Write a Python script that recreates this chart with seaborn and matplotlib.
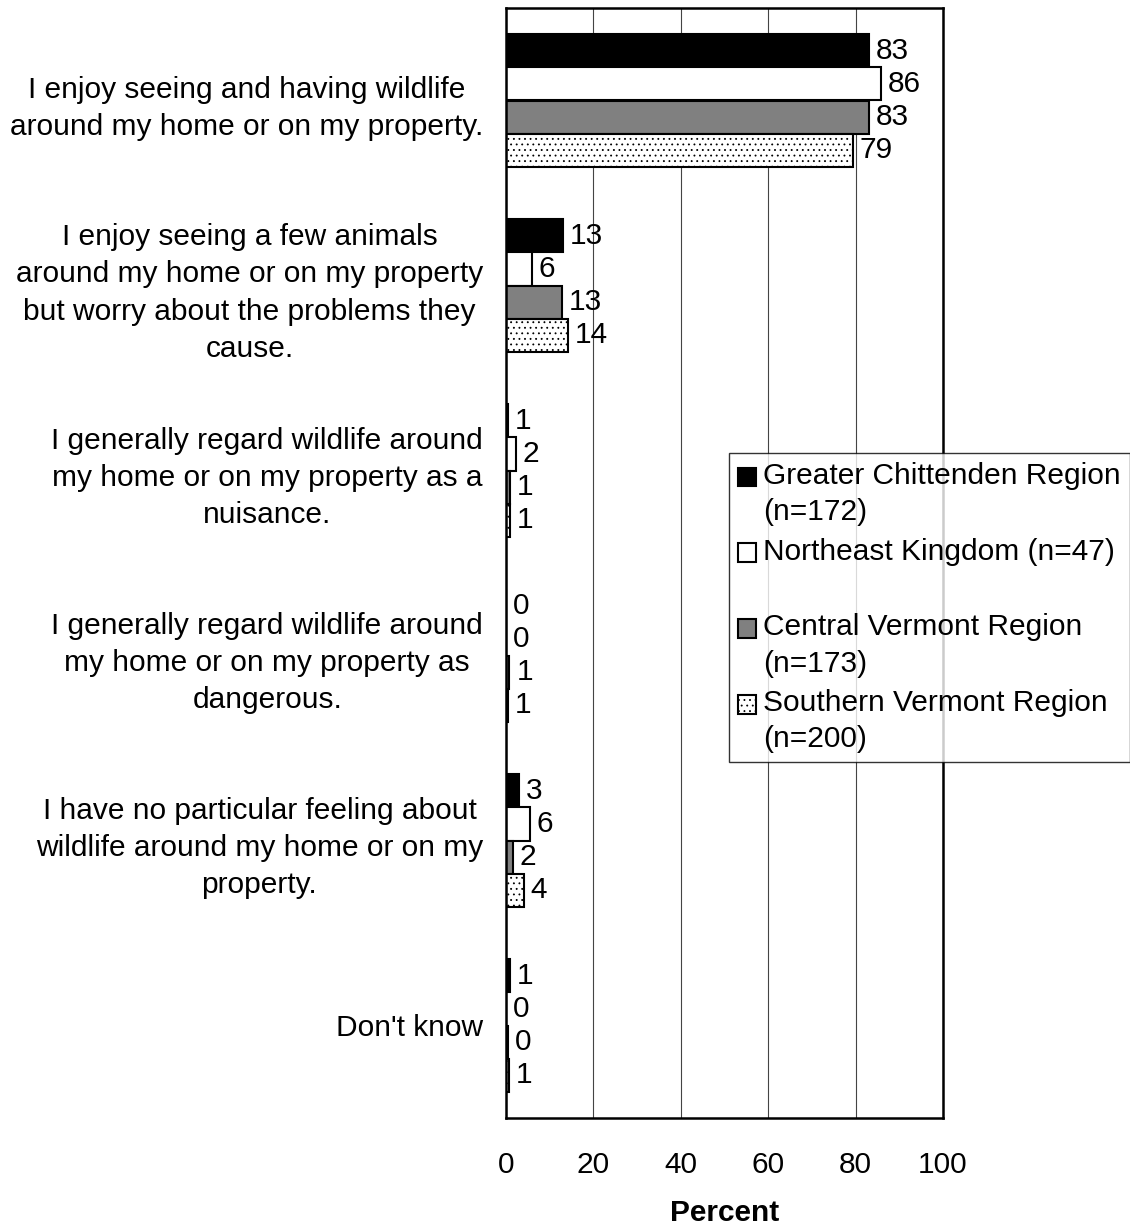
import pandas as pd
import matplotlib.pyplot as plt
import seaborn as sns

# Data
statements = [
    "I enjoy seeing and having wildlife\naround my home or on my property.",
    "I enjoy seeing a few animals\naround my home or on my property\nbut worry about the problems they\ncause.",
    "I generally regard wildlife around\nmy home or on my property as a\nnuisance.",
    "I generally regard wildlife around\nmy home or on my property as\ndangerous.",
    "I have no particular feeling about\nwildlife around my home or on my\nproperty.",
    "Don't know",
]
regions = [
    "Greater Chittenden Region\n(n=172)",
    "Northeast Kingdom (n=47)\n",
    "Central Vermont Region\n(n=173)",
    "Southern Vermont Region\n(n=200)",
]
greater = [83.1, 13.0, 0.5, 0.0, 3.0, 0.9]
northeast = [85.8, 5.9, 2.2, 0.0, 5.5, 0.0]
central = [83.0, 12.8, 0.9, 0.8, 1.6, 0.4]
southern = [79.4, 14.2, 0.9, 0.5, 4.1, 0.6]
greater_lbl = [83, 13, 1, 0, 3, 1]
northeast_lbl = [86, 6, 2, 0, 6, 0]
central_lbl = [83, 13, 1, 1, 2, 0]
southern_lbl = [79, 14, 1, 1, 4, 1]

series = [greater, northeast, central, southern]
labels = [greater_lbl, northeast_lbl, central_lbl, southern_lbl]

rows = []
for reg, vals in zip(regions, series):
    for st, v in zip(statements, vals):
        rows.append({"statement": st, "region": reg, "value": v})
df = pd.DataFrame(rows)

sns.set_style("white")
plt.rcParams["font.family"] = ["Liberation Sans", "DejaVu Sans"]
plt.rcParams["text.color"] = "black"
plt.rcParams["xtick.color"] = "black"
plt.rcParams["ytick.color"] = "black"
plt.rcParams["axes.labelcolor"] = "black"
plt.rcParams["hatch.linewidth"] = 0.6

FS = 21.5

fig = plt.figure(figsize=(11.3, 12.26), dpi=100)
ax = fig.add_axes([506 / 1130, 1 - 1118 / 1226, 437 / 1130, 1110 / 1226])

palette = ["black", "white", "#808080", "white"]
sns.barplot(data=df, y="statement", x="value", hue="region", orient="h",
            palette=palette, width=0.714, gap=0, edgecolor="black",
            linewidth=1.5, saturation=1, ax=ax, legend=True)

# dotted fill for Southern
for bar in ax.containers[3]:
    bar.set_hatch("...")
    bar.set_edgecolor("black")

for cont, lbl in zip(ax.containers, labels):
    ax.bar_label(cont, labels=[str(l) for l in lbl], padding=5, fontsize=FS)

ax.set_xlim(0, 100)
ax.set_ylim(len(statements) - 0.5, -0.5)
ax.set_xticks([0, 20, 40, 60, 80, 100])
ax.tick_params(axis="x", labelsize=FS, length=6, width=1.2, direction="out", pad=18)
ax.xaxis.grid(True, color="#444444", linewidth=0.8)
ax.set_axisbelow(True)

ax.set_yticks([i - 0.5 for i in range(len(statements) + 1)])
ax.set_yticklabels([])
ax.set_yticks(range(len(statements)), minor=True)
ax.set_yticklabels(statements, minor=True, fontsize=FS, ha="right",
                   multialignment="center", linespacing=1.42)
ax.tick_params(axis="y", which="major", length=6, width=1.2, direction="out")
ax.tick_params(axis="y", which="minor", length=0, pad=16.5)

for sp in ax.spines.values():
    sp.set_visible(True)
    sp.set_color("black")
    sp.set_linewidth(1.8)

ax.set_ylabel("")
ax.set_xlabel("Percent", fontsize=FS, fontweight="bold", labelpad=14)

ax.get_legend().remove()
handles, lbls = ax.get_legend_handles_labels()
handles[3].set_hatch("...")
leg = fig.legend(handles[:4], lbls[:4], loc="upper left",
                 bbox_to_anchor=(729 / 1130, 1 - 453 / 1226),
                 bbox_transform=fig.transFigure, fontsize=FS,
                 frameon=True, fancybox=False, borderaxespad=0,
                 handlelength=0.6, handleheight=0.6, handletextpad=0.25,
                 labelspacing=0.38, borderpad=0.3)
for t in leg.get_texts():
    t.set_linespacing(1.38)
leg.get_frame().set_edgecolor("black")
leg.get_frame().set_linewidth(1.0)
# put the legend swatch next to the first line of each entry
for col in leg._legend_handle_box.get_children():
    for row in col.get_children():
        row.align = "top"
for h in leg.legend_handles:
    h.set_y(h.get_y() - 4)

fig.savefig("out.png", dpi=100)
